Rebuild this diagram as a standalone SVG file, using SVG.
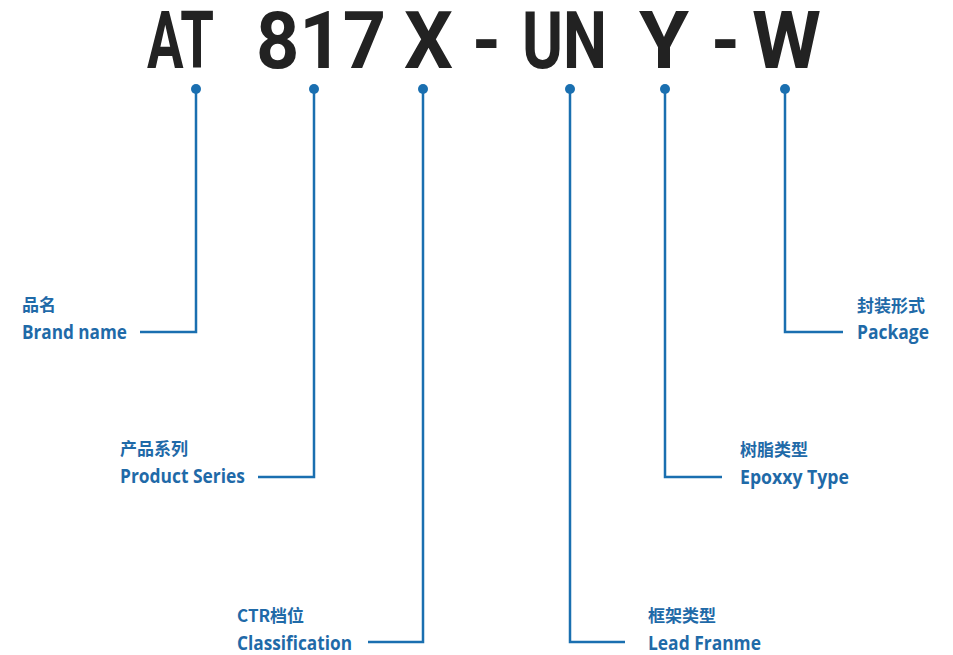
<svg xmlns="http://www.w3.org/2000/svg" width="953" height="655" viewBox="0 0 953 655">
<style>
.t{font-family:Roboto,"DejaVu Sans",sans-serif;font-weight:bold;font-size:80px;fill:#222222}
.cn{font-family:"Noto Sans CJK SC","Noto Sans",sans-serif;font-weight:bold;font-size:17px;fill:#1f6aa8}
.en{font-family:"Open Sans","Noto Sans",sans-serif;font-weight:bold;font-size:20px;fill:#1f6aa8}
.ln{fill:none;stroke:#1a6fb0;stroke-width:2.5}
.dot{fill:#1a6fb0}
</style>
<rect width="953" height="655" fill="#ffffff"/>
<g id="title">
<text class="t" x="147" y="68" textLength="67" lengthAdjust="spacingAndGlyphs">AT</text>
<text class="t" x="256" y="68" textLength="130" lengthAdjust="spacingAndGlyphs">817</text>
<text class="t" x="404" y="68" textLength="49" lengthAdjust="spacingAndGlyphs">X</text>
<text class="t" x="472" y="68" textLength="29" lengthAdjust="spacingAndGlyphs">-</text>
<text class="t" x="522" y="68" textLength="85" lengthAdjust="spacingAndGlyphs">UN</text>
<text class="t" x="639" y="68" textLength="50" lengthAdjust="spacingAndGlyphs">Y</text>
<text class="t" x="711" y="68" textLength="29" lengthAdjust="spacingAndGlyphs">-</text>
<text class="t" x="752" y="68" textLength="69" lengthAdjust="spacingAndGlyphs">W</text>
</g>
<g id="connectors">
<circle class="dot" cx="196" cy="89" r="5"/>
<polyline class="ln" points="196,89 196,332 140,332"/>
<circle class="dot" cx="314" cy="89" r="5"/>
<polyline class="ln" points="314,89 314,477 258,477"/>
<circle class="dot" cx="423" cy="89" r="5"/>
<polyline class="ln" points="423,89 423,642 368,642"/>
<circle class="dot" cx="570" cy="89" r="5"/>
<polyline class="ln" points="570,89 570,642 625,642"/>
<circle class="dot" cx="665" cy="89" r="5"/>
<polyline class="ln" points="665,89 665,477 722,477"/>
<circle class="dot" cx="785" cy="89" r="5"/>
<polyline class="ln" points="785,89 785,332 843,332"/>
</g>
<g id="brand">
<text class="cn" x="22" y="311">品名</text>
<text class="en" x="22" y="339" textLength="105" lengthAdjust="spacingAndGlyphs">Brand name</text>
</g>
<g id="series">
<text class="cn" x="120" y="455">产品系列</text>
<text class="en" x="120" y="483" textLength="125" lengthAdjust="spacingAndGlyphs">Product Series</text>
</g>
<g id="classification">
<text class="cn" x="237" y="622">CTR档位</text>
<text class="en" x="237" y="650" textLength="115" lengthAdjust="spacingAndGlyphs">Classification</text>
</g>
<g id="leadframe">
<text class="cn" x="648" y="622">框架类型</text>
<text class="en" x="648" y="650" textLength="113" lengthAdjust="spacingAndGlyphs">Lead Franme</text>
</g>
<g id="epoxy">
<text class="cn" x="740" y="456">树脂类型</text>
<text class="en" x="740" y="484" textLength="109" lengthAdjust="spacingAndGlyphs">Epoxxy Type</text>
</g>
<g id="package">
<text class="cn" x="857" y="312">封装形式</text>
<text class="en" x="857" y="339" textLength="72" lengthAdjust="spacingAndGlyphs">Package</text>
</g>
</svg>
